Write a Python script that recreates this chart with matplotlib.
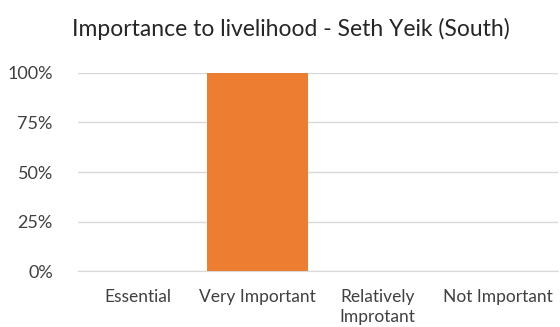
import matplotlib
matplotlib.use("Agg")
import matplotlib.pyplot as plt
from matplotlib.ticker import PercentFormatter

# data
categories = ["Essential", "Very Important", "Relatively\nImprotant", "Not Important"]
values = [0, 100, 0, 0]
title = "Importance to livelihood - Seth Yeik (South)"

plt.rcParams['font.family'] = ['Lato', 'DejaVu Sans']

fig = plt.figure(figsize=(5.6, 3.27), dpi=100)
ax = fig.add_axes([0.139, 0.171, 0.857, 0.606])

x = range(len(categories))
ax.bar(x, values, width=0.84, color="#ED7D31", zorder=3)

ax.set_xlim(-0.5, len(categories) - 0.5)
ax.set_ylim(0, 100)
ax.set_yticks([0, 25, 50, 75, 100])
ax.yaxis.set_major_formatter(PercentFormatter(decimals=0))
ax.set_xticks(list(x))
ax.set_xticklabels(categories, fontsize=12.5, color="#404040", linespacing=1.3)
ax.tick_params(axis='y', labelsize=13, colors="#404040", length=0, pad=18)
ax.tick_params(axis='x', length=0, pad=13)

ax.grid(axis='y', color="#d9d9d9", linewidth=1, zorder=0)
for s in ["top", "right", "left"]:
    ax.spines[s].set_visible(False)
ax.spines["bottom"].set_color("#d9d9d9")

fig.text(0.52, 0.91, title, ha="center", va="center", fontsize=16.5, color="#262626")

fig.savefig("out.png", dpi=100)
